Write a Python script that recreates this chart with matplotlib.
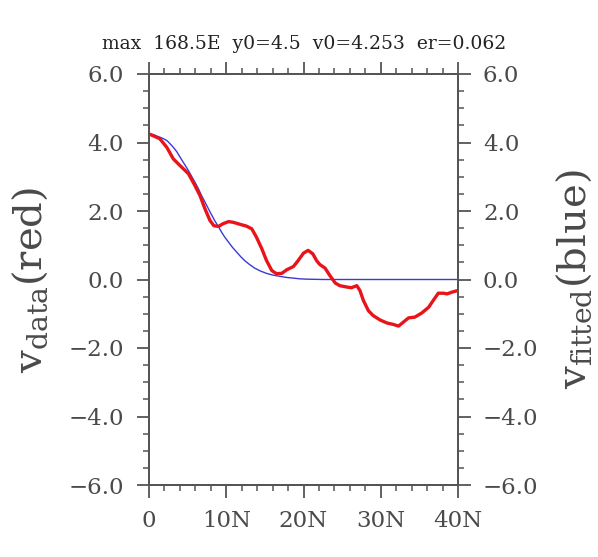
import matplotlib
matplotlib.use("Agg")
import matplotlib.pyplot as plt
from matplotlib.ticker import MultipleLocator

# ---- data ----
lat_data = [0.0, 1.4, 2.3, 3.15, 4.0, 5.1, 5.95, 6.6, 7.25, 7.9, 8.4, 9.0, 9.6, 10.3,
            10.9, 11.8, 12.6, 13.3, 13.9, 14.6, 15.2, 15.9, 16.5, 17.2, 17.8, 18.7,
            19.3, 20.0, 20.6, 21.2, 21.7, 22.1, 22.8, 23.4, 24.1, 24.7, 25.6, 26.2,
            26.9, 27.3, 27.75, 28.4, 29.0, 29.9, 30.8, 31.6, 32.3, 32.9, 33.6, 34.4,
            35.3, 36.2, 36.8, 37.45, 38.1, 38.6, 39.2, 40.0]
v_data = [4.25, 4.11, 3.86, 3.52, 3.33, 3.09, 2.74, 2.45, 2.06, 1.72, 1.57, 1.55, 1.63, 1.69,
          1.67, 1.61, 1.56, 1.48, 1.24, 0.90, 0.56, 0.26, 0.17, 0.18, 0.28, 0.38,
          0.55, 0.77, 0.85, 0.75, 0.55, 0.44, 0.33, 0.12, -0.10, -0.18, -0.22, -0.24,
          -0.18, -0.32, -0.61, -0.91, -1.05, -1.18, -1.27, -1.31, -1.36, -1.25, -1.12, -1.10,
          -0.98, -0.81, -0.61, -0.40, -0.40, -0.42, -0.37, -0.32]

lat_fit = [0.0, 0.6, 1.1, 1.7, 2.3, 2.7, 3.15, 3.6, 4.0, 4.5, 5.1, 5.5, 5.95, 6.4, 6.8,
           7.25, 7.7, 8.1, 8.5, 9.0, 9.4, 9.8, 10.3, 10.8, 11.35, 11.9, 12.4, 13.0,
           13.7, 14.4, 15.2, 16.0, 17.0, 17.8, 18.7, 19.5, 20.4, 21.5, 22.6, 40.0]
v_fit = [4.25, 4.23, 4.18, 4.13, 4.06, 3.97, 3.86, 3.73, 3.58, 3.40, 3.18, 3.02, 2.84,
         2.65, 2.45, 2.26, 2.06, 1.89, 1.72, 1.54, 1.38, 1.24, 1.09, 0.94, 0.80, 0.66,
         0.55, 0.44, 0.33, 0.25, 0.18, 0.13, 0.09, 0.06, 0.04, 0.02, 0.01, 0.005, 0.0, 0.0]

xtick_vals = [0, 10, 20, 30, 40]
xtick_labels = ["0", "10N", "20N", "30N", "40N"]
ytick_vals = [-6, -4, -2, 0, 2, 4, 6]
ytick_labels = ["\u22126.0", "\u22124.0", "\u22122.0", "0.0", "2.0", "4.0", "6.0"]
title = "max  168.5E  y0=4.5  v0=4.253  er=0.062"

# ---- style ----
plt.rcParams['font.family'] = ['DejaVu Serif']
plt.rcParams['mathtext.fontset'] = 'dejavuserif'
axcol = "#555555"
txtcol = "#4a4a4a"

fig = plt.figure(figsize=(5.98, 5.57), dpi=100)
ax = fig.add_axes([149/598, 1-485/557, (458-149)/598, (485-74)/557])

ax.plot(lat_fit, v_fit, color="#3a3ad8", lw=1.0, zorder=2)
ax.plot(lat_data, v_data, color="#e8141a", lw=2.4, zorder=3, solid_capstyle="round",
        solid_joinstyle="round")

ax.set_xlim(0, 40)
ax.set_ylim(-6, 6)

ax2 = ax.twinx()
ax2.set_ylim(-6, 6)
ax3 = ax.twiny()
ax3.set_xlim(0, 40)

for a in (ax, ax2, ax3):
    for s in a.spines.values():
        s.set_color(axcol)
        s.set_linewidth(1.3)

ax.set_xticks(xtick_vals)
ax.set_xticklabels(xtick_labels)
ax.xaxis.set_minor_locator(MultipleLocator(2))
ax.set_yticks(ytick_vals)
ax.set_yticklabels(ytick_labels)
ax.yaxis.set_minor_locator(MultipleLocator(0.5))
ax2.set_yticks(ytick_vals)
ax2.set_yticklabels(ytick_labels)
ax2.yaxis.set_minor_locator(MultipleLocator(0.5))
ax3.set_xticks(xtick_vals)
ax3.set_xticklabels([])
ax3.xaxis.set_minor_locator(MultipleLocator(2))

for a in (ax, ax2, ax3):
    a.tick_params(which="major", direction="out", length=9, width=1.3, color=axcol,
                  labelsize=16.5, labelcolor=txtcol, pad=9)
    a.tick_params(which="minor", direction="out", length=4, width=1.1, color=axcol)

ax.set_ylabel(r"$\mathrm{v_{data}}$(red)", fontsize=29, color=txtcol, labelpad=13)
ax2.set_ylabel(r"$\mathrm{v_{fitted}}$(blue)", fontsize=29, color=txtcol, labelpad=12)

fig.text(0.508, 1-44/557, title, ha="center", va="center", fontsize=13.5, color="#222222")

fig.savefig("out.png", dpi=100, facecolor="white")
